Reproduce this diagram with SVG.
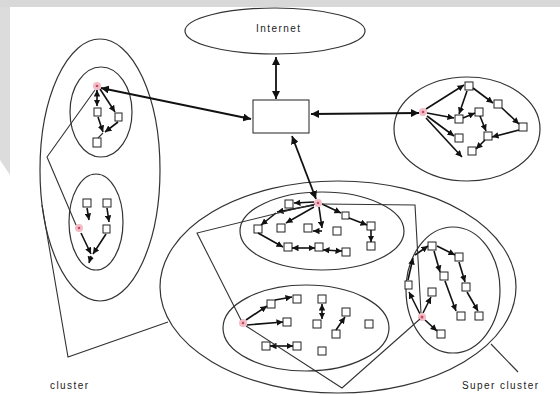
<svg xmlns="http://www.w3.org/2000/svg" width="560" height="395" viewBox="0 0 560 395">
<defs>
<style>
.e{fill:none;stroke:#333;stroke-width:1.2}
.l{fill:none;stroke:#333;stroke-width:1.1}
.sq{fill:#fff;stroke:#222;stroke-width:1}
.A{fill:none;stroke:#111;stroke-width:1.8;marker-start:url(#H);marker-end:url(#H)}
.s{fill:none;stroke:#111;stroke-width:1.6;marker-end:url(#m)}
.d{fill:none;stroke:#111;stroke-width:1.6;marker-start:url(#m);marker-end:url(#m)}
.rn{fill:#f3bcc6}
.rc{fill:#c24c64}
.t{font-family:"Liberation Sans",Arial,sans-serif;font-size:10px;fill:#222}
</style>
<marker id="H" viewBox="0 0 10 10" refX="10" refY="5" markerWidth="8" markerHeight="8" markerUnits="userSpaceOnUse" orient="auto-start-reverse"><path d="M0,0 L10,5 L0,10 z" fill="#111"/></marker>
<marker id="m" viewBox="0 0 10 10" refX="10" refY="5" markerWidth="6.5" markerHeight="6.5" markerUnits="userSpaceOnUse" orient="auto-start-reverse"><path d="M0,0 L10,5 L0,10 z" fill="#111"/></marker>
</defs>
<rect width="560" height="395" fill="#fff"/>
<rect width="560" height="7" fill="#d8d8d8"/>
<polygon points="0,7 10,7 10,175 0,160" fill="#dcdcdc"/>

<g id="internet"><ellipse class="e" cx="275" cy="31" rx="90" ry="23"/><text class="t" x="278" y="32" text-anchor="middle" font-size="9" fill="#666" textLength="44">Internet</text></g>
<g id="gateway"><rect x="253" y="100" width="56" height="33" fill="#fff" stroke="#222" stroke-width="1"/></g>

<g id="superclusterLeft"><ellipse class="e" cx="100" cy="170" rx="60" ry="131"/></g>
<g id="superclusterMain"><ellipse class="e" cx="338" cy="287" rx="178" ry="106"/></g>

<g id="clusterUL">
<ellipse class="e" cx="101" cy="112" rx="31" ry="45"/>
<rect class="sq" x="94" y="108" width="7" height="8"/><rect class="sq" x="115" y="113" width="7" height="8"/><rect class="sq" x="93" y="138" width="8" height="9"/>
<path class="d" d="M97,90 L97,106"/><path class="s" d="M100,89 L115,112"/><path class="s" d="M98,117 L103,132"/><path class="s" d="M118,122 L105,132"/><path class="l" d="M103,133 L98,138"/>
<circle class="rn" cx="97" cy="86" r="4"/><circle class="rc" cx="97" cy="86" r="1.3"/>
</g>

<g id="clusterLL">
<ellipse class="e" cx="96" cy="222" rx="27" ry="48"/>
<rect class="sq" x="83" y="199" width="8" height="8"/><rect class="sq" x="103" y="199" width="8" height="8"/><rect class="sq" x="103" y="225" width="7" height="8"/>
<path class="s" d="M87,208 L89,220"/><path class="s" d="M107,208 L109,222"/><path class="s" d="M81,233 L91,254"/><path class="s" d="M106,234 L93,254"/><path class="s" d="M91,256 L89,263"/>
<circle class="rn" cx="79" cy="228" r="4"/><circle class="rc" cx="79" cy="228" r="1.3"/>
</g>

<g id="clusterR">
<ellipse class="e" cx="467" cy="129" rx="73" ry="52"/>
<rect class="sq" x="465" y="82" width="8" height="8"/><rect class="sq" x="494" y="100" width="8" height="8"/><rect class="sq" x="455" y="115" width="8" height="8"/><rect class="sq" x="475" y="108" width="8" height="8"/><rect class="sq" x="519" y="123" width="8" height="8"/><rect class="sq" x="455" y="134" width="8" height="8"/><rect class="sq" x="484" y="132" width="8" height="8"/><rect class="sq" x="468" y="147" width="8" height="8"/>
<path class="s" d="M426,109 L464,85"/><path class="s" d="M427,113 L454,118"/><path class="s" d="M427,116 L454,136"/><path class="s" d="M426,118 L462,157"/>
<path class="s" d="M467,91 L459,114"/><path class="s" d="M473,88 L493,103"/><path class="s" d="M502,108 L519,124"/><path class="s" d="M519,130 L492,137"/><path class="s" d="M485,140 L476,149"/><path class="s" d="M463,118 L475,113"/><path class="s" d="M480,116 L486,131"/>
<circle class="rn" cx="423" cy="112" r="4"/><circle class="rc" cx="423" cy="112" r="1.3"/>
</g>

<g id="clusterTM">
<ellipse class="e" cx="322" cy="231" rx="82" ry="39"/>
<rect class="sq" x="285" y="200" width="8" height="8"/><rect class="sq" x="254" y="225" width="8" height="8"/><rect class="sq" x="277" y="224" width="8" height="8"/><rect class="sq" x="304" y="224" width="8" height="8"/><rect class="sq" x="342" y="212" width="7" height="7"/><rect class="sq" x="333" y="227" width="8" height="8"/><rect class="sq" x="367" y="222" width="8" height="8"/><rect class="sq" x="367" y="242" width="8" height="8"/><rect class="sq" x="284" y="243" width="8" height="8"/><rect class="sq" x="315" y="243" width="8" height="8"/><rect class="sq" x="342" y="248" width="8" height="8"/>
<path class="s" d="M314,202 L294,203"/><path class="s" d="M314,205 L277,212"/><path class="s" d="M276,213 L261,225"/><path class="s" d="M314,207 L286,223"/><path class="s" d="M319,207 L322,228"/><path class="s" d="M322,231 L313,231"/><path class="s" d="M322,204 L341,213"/><path class="s" d="M349,218 L367,225"/><path class="s" d="M371,230 L371,242"/><path class="s" d="M258,233 L283,247"/><path class="d" d="M292,248 L315,248"/><path class="d" d="M323,250 L342,251"/>
<circle class="rn" cx="318" cy="203" r="4"/><circle class="rc" cx="318" cy="203" r="1.3"/>
</g>

<g id="clusterLM">
<ellipse class="e" cx="306" cy="328" rx="83" ry="43"/>
<rect class="sq" x="267" y="300" width="8" height="8"/><rect class="sq" x="293" y="295" width="8" height="8"/><rect class="sq" x="318" y="295" width="8" height="8"/><rect class="sq" x="283" y="318" width="8" height="8"/><rect class="sq" x="313" y="320" width="8" height="8"/><rect class="sq" x="342" y="308" width="8" height="8"/><rect class="sq" x="332" y="330" width="8" height="8"/><rect class="sq" x="365" y="320" width="8" height="8"/><rect class="sq" x="262" y="342" width="8" height="8"/><rect class="sq" x="293" y="342" width="8" height="8"/><rect class="sq" x="318" y="347" width="8" height="8"/>
<path class="s" d="M246,320 L267,306"/><path class="s" d="M275,300 L292,297"/><path class="s" d="M247,325 L283,322"/><path class="d" d="M322,304 L322,319"/><path class="s" d="M336,330 L345,317"/><path class="d" d="M270,346 L293,346"/>
<circle class="rn" cx="243" cy="323" r="4"/><circle class="rc" cx="243" cy="323" r="1.3"/>
</g>

<g id="clusterRB">
<ellipse class="e" cx="453" cy="290" rx="47" ry="63"/>
<rect class="sq" x="428" y="242" width="8" height="8"/><rect class="sq" x="455" y="253" width="8" height="8"/><rect class="sq" x="440" y="272" width="8" height="8"/><rect class="sq" x="405" y="281" width="7" height="8"/><rect class="sq" x="462" y="283" width="8" height="8"/><rect class="sq" x="428" y="288" width="8" height="8"/><rect class="sq" x="457" y="312" width="8" height="8"/><rect class="sq" x="475" y="312" width="8" height="8"/><rect class="sq" x="437" y="330" width="8" height="8"/>
<path class="s" d="M420,314 L409,292"/><path class="s" d="M408,280 L413,258"/><path class="s" d="M415,255 L428,246"/><path class="s" d="M437,246 L455,255"/><path class="s" d="M434,251 L440,272"/><path class="s" d="M459,262 L465,282"/><path class="s" d="M467,292 L478,311"/><path class="s" d="M445,281 L456,311"/><path class="s" d="M425,320 L437,331"/><path class="s" d="M423,313 L431,297"/>
<circle class="rn" cx="422" cy="317" r="4"/><circle class="rc" cx="422" cy="317" r="1.5"/>
</g>

<g id="connectors">
<path class="A" d="M276,57 L276,99"/>
<path class="A" d="M251,119 L101,88"/>
<path class="A" d="M311,114 L419,113"/>
<path class="A" d="M292,136 L316,199"/>
<polyline class="l" points="95,90 47,157 76,225"/>
<polyline class="l" points="315,204 197,233 241,320"/>
<polyline class="l" points="322,204 415,205 421,313"/>
<polyline class="l" points="246,326 342,388 420,319"/>
<polyline class="l" points="42,205 68,357 168,322"/>
<line class="l" x1="491" y1="344" x2="518" y2="372"/>
</g>

<g id="labels">
<text class="t" x="50" y="389" textLength="38">cluster</text>
<text class="t" x="462" y="389" textLength="76">Super cluster</text>
</g>
</svg>
